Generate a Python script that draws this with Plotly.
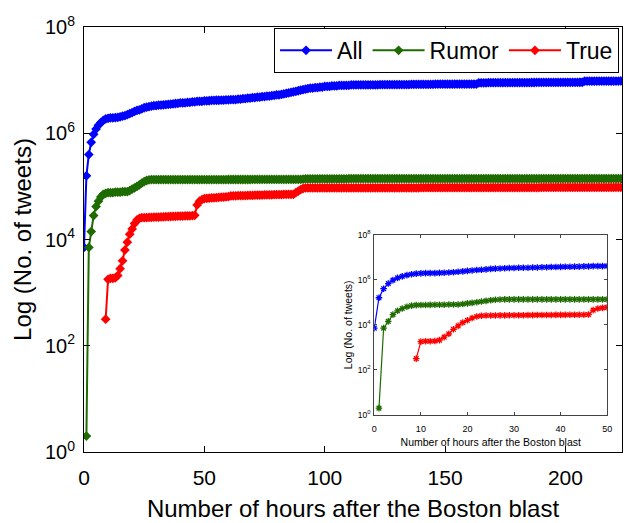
import plotly.graph_objects as go

# ---------------- data ----------------
hours = list(range(0, 224))

all_tweets = [
    7100, 158000, 398000, 676000, 955000, 1200000, 1410000, 1590000, 1740000, 1860000,
    1910000, 1950000, 1950000, 1960000, 2000000, 2040000, 2090000, 2140000, 2240000, 2340000,
    2450000, 2570000, 2690000, 2750000, 2880000, 3020000, 3090000, 3160000, 3240000, 3310000,
    3320000, 3390000, 3400000, 3410000, 3470000, 3480000, 3550000, 3560000, 3630000, 3640000,
    3720000, 3730000, 3740000, 3800000, 3810000, 3890000, 3900000, 3980000, 3990000, 4000000,
    4070000, 4080000, 4090000, 4170000, 4170000, 4180000, 4180000, 4190000, 4190000, 4270000,
    4270000, 4280000, 4280000, 4290000, 4370000, 4380000, 4470000, 4480000, 4570000, 4580000,
    4680000, 4690000, 4790000, 4800000, 4900000, 4910000, 5010000, 5020000, 5130000, 5140000,
    5250000, 5260000, 5370000, 5500000, 5620000, 5750000, 5890000, 6030000, 6170000, 6310000,
    6460000, 6610000, 6760000, 6920000, 7080000, 7090000, 7240000, 7250000, 7410000, 7420000,
    7590000, 7600000, 7610000, 7760000, 7770000, 7780000, 7940000, 7950000, 7960000, 7970000,
    7980000, 8130000, 8130000, 8140000, 8140000, 8150000, 8150000, 8160000, 8160000, 8170000,
    8170000, 8180000, 8180000, 8190000, 8190000, 8200000, 8200000, 8210000, 8210000, 8220000,
    8220000, 8230000, 8230000, 8240000, 8240000, 8250000, 8320000, 8320000, 8330000, 8330000,
    8340000, 8340000, 8350000, 8350000, 8360000, 8360000, 8370000, 8370000, 8380000, 8380000,
    8390000, 8390000, 8400000, 8400000, 8410000, 8410000, 8420000, 8420000, 8430000, 8430000,
    8440000, 8440000, 8450000, 8450000, 8910000, 8910000, 8920000, 8920000, 8930000, 8930000,
    8940000, 8940000, 8950000, 8950000, 8960000, 8960000, 8970000, 8970000, 8980000, 8980000,
    8990000, 8990000, 9000000, 9000000, 9010000, 9010000, 9020000, 9020000, 9030000, 9030000,
    9040000, 9040000, 9050000, 9050000, 9060000, 9060000, 9070000, 9070000, 9080000, 9080000,
    9090000, 9090000, 9100000, 9100000, 9110000, 9110000, 9120000, 9120000, 9550000, 9560000,
    9560000, 9570000, 9570000, 9580000, 9580000, 9590000, 9590000, 9600000, 9600000, 9610000,
    9610000, 9620000, 9620000, 9630000,
]

rumor_tweets = [
    None, 2, 7080, 14100, 28200, 41700, 52500, 63100, 70800, 74100,
    75900, 75900, 76000, 77600, 77600, 77700, 79400, 79400, 79500, 83200,
    89100, 93300, 100000, 107000, 115000, 123000, 129000, 133000, 134000, 134000,
    134100, 134100, 134100, 134100, 134100, 134100, 134100, 134100, 134100, 134100,
    134300, 134300, 134300, 134300, 134300, 134300, 134300, 134300, 134300, 134300,
    134500, 134500, 134500, 134500, 134500, 134500, 134500, 134500, 134500, 134500,
    134700, 134700, 134700, 134700, 134700, 134700, 134700, 134700, 134700, 134700,
    134900, 134900, 134900, 134900, 134900, 134900, 134900, 134900, 134900, 134900,
    135100, 135100, 135100, 135100, 135100, 135100, 135100, 135100, 135100, 135100,
    135300, 136500, 139000, 139000, 139000, 139000, 139000, 139000, 139000, 139000,
    139100, 139100, 139100, 139100, 139100, 139100, 139100, 139100, 139100, 139100,
    139200, 139200, 139200, 139200, 139200, 139200, 139200, 139200, 139200, 139200,
    139300, 139300, 139300, 139300, 139300, 139300, 139300, 139300, 139300, 139300,
    139400, 139400, 139400, 139400, 139400, 139400, 139400, 139400, 139400, 139400,
    139500, 139500, 139500, 139500, 139500, 139500, 139500, 139500, 139500, 139500,
    139600, 139600, 139600, 139600, 139600, 139600, 139600, 139600, 139600, 139600,
    139700, 139700, 139700, 139700, 139700, 139700, 139700, 139700, 139700, 139700,
    139800, 139800, 139800, 139800, 139800, 139800, 139800, 139800, 139800, 139800,
    139900, 139900, 139900, 139900, 139900, 139900, 139900, 139900, 139900, 139900,
    140000, 140000, 140000, 140000, 140000, 140000, 140000, 140000, 140000, 140000,
    140100, 140100, 140100, 140100, 140100, 140100, 140100, 140100, 140100, 140100,
    140200, 140200, 140200, 140200, 140200, 140200, 140200, 140200, 140200, 140200,
    140300, 140300, 140300, 140300,
]

true_tweets = [
    None, None, None, None, None, None, None, None, None, 316,
    1780, 1860, 1860, 1900, 2090, 2820, 3980, 6310, 8910, 12600,
    15800, 19900, 23400, 25100, 25700, 25800, 25900, 26000, 26100, 26300,
    26400, 26500, 26600, 26700, 26900, 27000, 27100, 27200, 27300, 27400,
    27500, 27600, 27700, 27800, 27900, 28000, 28500, 44700, 52500, 56200,
    58900, 59500, 60000, 60500, 61000, 61500, 62000, 62500, 63000, 63500,
    64000, 66100, 66300, 66500, 66700, 66900, 67100, 67300, 67500, 67700,
    67900, 68100, 68300, 68500, 68700, 68900, 69100, 69300, 69500, 69700,
    69900, 70100, 70300, 70500, 70700, 70800, 70900, 71000, 75900, 81300,
    87100, 91200, 93300, 93300, 93300, 93300, 93300, 93300, 93300, 93300,
    93500, 93500, 93500, 93500, 93500, 93500, 93500, 93500, 93500, 93500,
    93700, 93700, 93700, 93700, 93700, 93700, 93700, 93700, 93700, 93700,
    93900, 93900, 93900, 93900, 93900, 93900, 93900, 93900, 93900, 93900,
    94100, 94100, 94100, 94100, 94100, 94100, 94100, 94100, 94100, 94100,
    94300, 94300, 94300, 94300, 94300, 94300, 94300, 94300, 94300, 94300,
    94500, 94500, 94500, 94500, 94500, 94500, 94500, 94500, 94500, 94500,
    94700, 94700, 94700, 94700, 94700, 94700, 94700, 94700, 94700, 94700,
    94900, 94900, 94900, 94900, 94900, 94900, 94900, 94900, 94900, 94900,
    95100, 95100, 95100, 95100, 95100, 95100, 95100, 95100, 95100, 95100,
    95300, 95300, 95300, 95300, 95300, 95300, 95300, 95300, 95300, 95300,
    95500, 95500, 95500, 95500, 95500, 95500, 95500, 95500, 95500, 95500,
    95700, 95700, 95700, 95700, 95700, 95700, 95700, 95700, 95700, 95700,
    95900, 95900, 95900, 95900,
]

series_names = ["All", "Rumor", "True"]
series_colors = ["#0000ff", "#1e6b00", "#ff0000"]

main_xticks = [0, 50, 100, 150, 200]
main_yticks = [1, 1e2, 1e4, 1e6, 1e8]
main_yticktext = ["10<sup>0</sup>", "10<sup>2</sup>", "10<sup>4</sup>",
                  "10<sup>6</sup>", "10<sup>8</sup>"]
inset_xticks = [0, 10, 20, 30, 40, 50]
inset_hours_max = 50

x_title = "Number of hours after the Boston blast"
y_title = "Log (No. of tweets)"

# ---------------- figure ----------------
FONT = "Liberation Sans, Arial, Helvetica, sans-serif"
fig = go.Figure()

all_series = [all_tweets, rumor_tweets, true_tweets]

for name, color, vals in zip(series_names, series_colors, all_series):
    fig.add_trace(go.Scatter(
        x=hours, y=vals, name=name, mode="lines+markers",
        line=dict(color=color, width=2),
        marker=dict(symbol="diamond", size=7.5, color=color, line=dict(width=0)),
        xaxis="x", yaxis="y", connectgaps=False,
    ))

n_in = inset_hours_max + 1
for name, color, vals in zip(series_names, series_colors, all_series):
    fig.add_trace(go.Scatter(
        x=hours[:n_in], y=vals[:n_in], name=name, mode="lines+markers",
        line=dict(color=color, width=1.2),
        marker=dict(symbol="asterisk-open", size=5.5, color=color,
                    line=dict(width=1.3, color=color)),
        xaxis="x2", yaxis="y2", showlegend=False,
    ))

fig.update_layout(
    width=633, height=523,
    margin=dict(l=84, r=6, t=27, b=61),
    paper_bgcolor="white", plot_bgcolor="white",
    font=dict(family=FONT, color="black"),
    showlegend=True,
    legend=dict(
        orientation="h", x=0.9945, xanchor="right", y=0.998, yanchor="top",
        bgcolor="white", bordercolor="black", borderwidth=1,
        font=dict(family=FONT, size=23, color="black"),
        itemwidth=52,
    ),
    xaxis=dict(
        domain=[0, 1], range=[0, 223.5],
        tickmode="array", tickvals=main_xticks,
        ticks="inside", ticklen=6, tickcolor="black",
        showline=True, linecolor="black", linewidth=1, mirror="allticks",
        showgrid=False, zeroline=False,
        tickfont=dict(family=FONT, size=21, color="black"),
        ticklabelstandoff=7,
        title=dict(text=x_title, font=dict(family=FONT, size=24, color="black"),
                   standoff=11),
    ),
    yaxis=dict(
        domain=[0, 1], type="log", range=[0, 8],
        tickmode="array", tickvals=main_yticks, ticktext=main_yticktext,
        ticks="inside", ticklen=6, tickcolor="black",
        showline=True, linecolor="black", linewidth=1, mirror="allticks",
        showgrid=False, zeroline=False,
        tickfont=dict(family=FONT, size=20, color="black"),
        ticklabelstandoff=4,
        title=dict(text=y_title, font=dict(family=FONT, size=24, color="black"),
                   standoff=6),
    ),
    xaxis2=dict(
        domain=[0.5396, 0.9724], anchor="y2", range=[0, inset_hours_max],
        tickmode="array", tickvals=inset_xticks,
        ticks="inside", ticklen=3, tickcolor="#444",
        showline=True, linecolor="#444", linewidth=1, mirror="allticks",
        showgrid=False, zeroline=False,
        tickfont=dict(family=FONT, size=9, color="black"),
        ticklabelstandoff=5,
        title=dict(text=x_title, font=dict(family=FONT, size=10.5, color="black"),
                   standoff=5),
    ),
    yaxis2=dict(
        domain=[0.0872, 0.5115], anchor="x2", type="log", range=[0, 8],
        tickmode="array", tickvals=main_yticks, ticktext=main_yticktext,
        ticks="inside", ticklen=3, tickcolor="#444",
        showline=True, linecolor="#444", linewidth=1, mirror="allticks",
        showgrid=False, zeroline=False,
        tickfont=dict(family=FONT, size=8.5, color="black"),
        ticklabelstandoff=1,
        title=dict(text=y_title, font=dict(family=FONT, size=10.5, color="black"),
                   standoff=3),
    ),
)

fig.write_html("out.html")
